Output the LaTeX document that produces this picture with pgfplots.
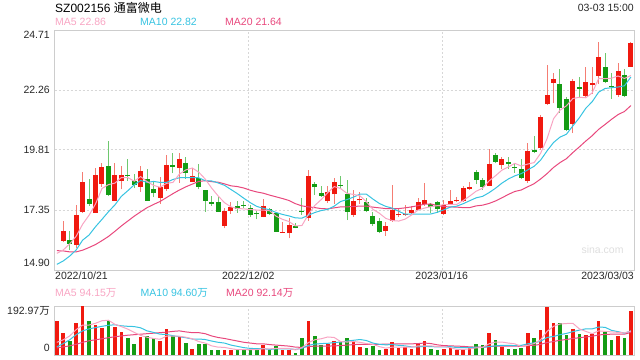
\documentclass[border=0pt]{standalone}
\usepackage{pgfplots}
\pgfplotsset{compat=1.18}
\usepackage{pgfplotstable}
\usepackage{fontspec}
\setmainfont{Liberation Sans}
\newfontfamily\cjk{Noto Sans CJK SC}
\definecolor{cUp}{RGB}{240,25,15}
\definecolor{cUpW}{RGB}{245,125,115}
\definecolor{cDn}{RGB}{20,155,20}
\definecolor{cDnW}{RGB}{110,200,110}
\definecolor{cMA5}{RGB}{248,165,195}
\definecolor{cMA10}{RGB}{55,195,225}
\definecolor{cMA20}{RGB}{232,72,125}
\definecolor{cGrid}{RGB}{215,215,215}
\definecolor{cBorder}{RGB}{205,205,205}
\definecolor{cTxt}{RGB}{40,40,40}
\definecolor{cWm}{RGB}{222,222,222}
\newcommand{\fs}[1]{\fontsize{#1}{#1}\selectfont}

% up candles: index open high low close
\pgfplotstableread{
i o h l c
0 16.10 16.90 16.06 16.49
2 15.92 17.56 15.79 17.15
3 17.28 18.92 17.24 18.50
5 17.24 19.08 17.24 18.78
6 18.42 19.29 18.31 19.12
8 17.73 19.29 17.73 18.78
9 18.55 19.15 18.20 18.77
12 18.31 19.15 18.10 18.95
15 17.86 18.71 17.60 18.31
16 18.21 19.60 18.14 19.19
18 19.06 19.67 18.47 19.44
20 18.51 19.08 18.51 18.74
25 16.70 17.42 16.60 17.31
26 17.32 17.67 17.19 17.49
31 17.08 17.80 17.05 17.52
34 16.42 16.88 16.42 16.47
35 16.40 17.04 16.19 16.74
38 17.01 18.99 16.92 18.75
41 17.72 18.33 17.65 18.07
42 17.99 18.65 17.60 18.51
45 17.15 18.17 17.08 17.72
46 17.75 18.07 17.60 17.80
50 16.49 16.85 16.30 16.70
51 16.92 18.37 16.88 17.35
52 17.13 17.42 17.05 17.19
53 17.13 17.56 17.11 17.18
54 17.22 17.53 17.19 17.35
55 17.35 17.83 17.35 17.67
56 17.58 18.44 17.53 17.76
59 17.19 17.76 17.15 17.56
60 17.60 18.17 17.56 17.72
61 17.71 17.90 17.67 17.76
62 17.73 18.33 17.69 18.25
63 18.21 18.51 18.17 18.31
66 18.35 19.85 18.35 19.23
68 19.19 19.53 19.01 19.44
72 18.54 20.08 18.47 19.76
74 19.87 21.24 19.80 21.14
75 21.685 23.28 21.645 22.05
76 22.56 22.94 21.71 22.69
79 20.87 22.69 20.49 22.64
81 22.03 23.18 21.94 22.585
82 22.48 23.18 22.09 22.53
83 22.84 24.21 22.50 23.59
86 22.05 23.375 21.985 23.03
88 23.21 24.23 23.21 24.19
}\uptab

% down candles: index open high low close
\pgfplotstableread{
i o h l c
1 16.125 16.49 15.72 15.975
4 17.80 18.62 17.53 17.60
7 19.15 20.17 17.92 17.97
10 18.78 19.42 18.55 18.73
11 18.55 18.81 18.24 18.37
13 18.62 19.01 17.73 17.73
14 18.21 18.55 17.87 18.03
17 19.19 19.70 18.85 19.12
19 19.26 19.53 18.63 18.88
21 18.67 19.23 18.20 18.31
22 18.17 18.17 17.28 17.73
23 17.69 17.94 17.53 17.60
24 17.69 17.94 17.28 17.28
27 17.52 17.72 17.24 17.38
28 17.56 17.72 17.42 17.51
29 17.42 17.56 17.08 17.15
30 17.23 17.31 16.97 17.18
32 17.39 17.42 17.15 17.19
33 17.22 17.24 16.47 16.47
36 16.70 16.83 16.60 16.63
37 17.32 17.83 17.15 17.27
39 18.42 18.48 17.97 18.28
40 18.06 18.33 17.90 17.94
43 18.38 18.74 18.20 18.33
44 18.01 18.58 16.94 17.28
47 17.67 17.83 17.26 17.31
48 17.11 17.28 16.71 16.78
49 16.90 17.04 16.40 16.47
57 17.60 17.65 17.24 17.49
58 17.67 17.73 17.24 17.39
64 18.89 18.99 18.40 18.58
65 18.58 18.65 18.17 18.31
67 19.60 19.67 19.26 19.33
69 19.30 19.53 19.03 19.23
70 19.12 19.26 18.88 19.06
71 19.01 19.42 18.61 18.67
73 19.80 20.39 19.67 19.74
77 22.50 23.10 21.33 21.54
78 21.89 21.985 20.58 20.62
80 22.37 22.80 21.92 22.30
84 23.18 23.76 22.53 22.60
85 22.42 22.94 21.89 22.37
87 22.87 23.10 21.96 22.03
}\dntab

% volume (10k shares), up days
\pgfplotstableread{
i v
-1 132
0 85
2 125
3 193
5 119
6 108
8 112
9 89
12 72
15 54
16 101
18 72
20 24
25 20
26 20
31 40
34 20
35 20
38 132
41 45
42 54
45 51
46 31
50 24
51 51
52 27
53 31
54 24
55 45
56 54
59 24
60 27
61 18
62 24
63 27
66 85
68 31
72 85
74 98
75 189
76 128
79 101
81 78
82 81
83 135
86 74
88 175
}\vuptab

% volume, down days
\pgfplotstableread{
i v
1 54
4 132
7 132
10 67
11 45
13 76
14 65
17 76
19 47
21 45
22 45
23 20
24 20
27 24
28 20
29 20
30 20
32 18
33 34
36 7
37 65
39 76
40 38
43 51
44 65
47 28
48 34
49 20
57 24
58 18
64 45
65 38
67 58
69 24
70 24
71 27
73 65
77 128
78 78
80 81
84 92
85 60
87 65
}\vdntab

\pgfplotsset{kbase/.style={
  scale only axis, width=579.5bp, xmin=-1.36, xmax=88.48,
  axis line style={draw=cBorder, line width=0.8bp},
  major tick length=0pt, tick style={draw=none},
  xtick={28.7,58.7}, xticklabels={},
  xmajorgrids,
  major grid style={draw=cGrid, line width=0.8bp, dash pattern=on 2bp off 2bp},
}}

\begin{document}
\begin{tikzpicture}
\useasboundingbox (0,0) rectangle (640bp,360bp);

% ---------------- price panel ----------------
\begin{axis}[kbase, at={(54.5bp,90bp)}, anchor=south west, height=240bp,
  ymin=14.90, ymax=24.71, ytick={17.35,19.81,22.26}, yticklabels={}, ymajorgrids]
% wicks
\addplot[draw=none, mark=none, forget plot, error bars/.cd, y dir=plus, y explicit, error mark=none,
  error bar style={draw=cUpW, line width=1bp}]
  table[x=i, y=l, y error plus expr=\thisrow{h}-\thisrow{l}] \uptab;
\addplot[draw=none, mark=none, forget plot, error bars/.cd, y dir=plus, y explicit, error mark=none,
  error bar style={draw=cDnW, line width=1bp}]
  table[x=i, y=l, y error plus expr=\thisrow{h}-\thisrow{l}] \dntab;
% bodies
\addplot[draw=none, mark=none, forget plot, error bars/.cd, y dir=plus, y explicit, error mark=none,
  error bar style={draw=cUp, line width=5bp, line cap=butt}]
  table[x=i, y=o, y error plus expr=\thisrow{c}-\thisrow{o}] \uptab;
\addplot[draw=none, mark=none, forget plot, error bars/.cd, y dir=plus, y explicit, error mark=none,
  error bar style={draw=cDn, line width=5bp, line cap=butt}]
  table[x=i, y=c, y error plus expr=\thisrow{o}-\thisrow{c}] \dntab;
% MA20
\addplot[cMA20, line width=1bp, mark=none] coordinates {
(-1,15.69)(0,15.68)(1,15.64)(2,15.64)(3,15.71)(4,15.82)(5,15.94)(6,16.10)(7,16.27)(8,16.48)(9,16.70)
(10,16.90)(11,17.10)(12,17.28)(13,17.45)(14,17.58)(15,17.70)(16,17.86)(17,18.02)(18,18.17)(19,18.30)
(20,18.41)(21,18.52)(22,18.55)(23,18.51)(24,18.49)(25,18.42)(26,18.34)(27,18.31)(28,18.25)(29,18.16)
(30,18.09)(31,18.04)(32,17.96)(33,17.89)(34,17.82)(35,17.74)(36,17.61)(37,17.52)(38,17.48)(39,17.45)
(40,17.41)(41,17.40)(42,17.44)(43,17.48)(44,17.48)(45,17.50)(46,17.51)(47,17.51)(48,17.47)(49,17.44)
(50,17.41)(51,17.41)(52,17.41)(53,17.44)(54,17.48)(55,17.53)(56,17.59)(57,17.60)(58,17.53)(59,17.49)
(60,17.48)(61,17.47)(62,17.45)(63,17.45)(64,17.52)(65,17.55)(66,17.62)(67,17.72)(68,17.85)(69,17.99)
(70,18.11)(71,18.17)(72,18.30)(73,18.43)(74,18.62)(75,18.84)(76,19.09)(77,19.29)(78,19.45)(79,19.70)
(80,19.93)(81,20.17)(82,20.39)(83,20.65)(84,20.85)(85,21.06)(86,21.25)(87,21.38)(88,21.62)};
% MA10
\addplot[cMA10, line width=1bp, mark=none] coordinates {
(-1,15.13)(0,15.27)(1,15.47)(2,15.72)(3,16.12)(4,16.33)(5,16.67)(6,16.97)(7,17.28)(8,17.56)(9,17.91)
(10,18.14)(11,18.38)(12,18.56)(13,18.48)(14,18.52)(15,18.48)(16,18.48)(17,18.60)(18,18.67)(19,18.68)
(20,18.68)(21,18.67)(22,18.55)(23,18.54)(24,18.46)(25,18.36)(26,18.19)(27,18.02)(28,17.83)(29,17.65)
(30,17.50)(31,17.42)(32,17.36)(33,17.25)(34,17.17)(35,17.11)(36,17.03)(37,17.02)(38,17.14)(39,17.25)
(40,17.33)(41,17.38)(42,17.51)(43,17.70)(44,17.78)(45,17.88)(46,18.00)(47,18.00)(48,17.80)(49,17.62)
(50,17.50)(51,17.43)(52,17.30)(53,17.18)(54,17.19)(55,17.18)(56,17.18)(57,17.19)(58,17.26)(59,17.36)
(60,17.47)(61,17.51)(62,17.61)(63,17.73)(64,17.85)(65,17.91)(66,18.06)(67,18.24)(68,18.45)(69,18.62)
(70,18.75)(71,18.84)(72,18.99)(73,19.14)(74,19.39)(75,19.77)(76,20.11)(77,20.33)(78,20.45)(79,20.79)
(80,21.12)(81,21.51)(82,21.78)(83,22.17)(84,22.32)(85,22.35)(86,22.38)(87,22.43)(88,22.79)};
% MA5
\addplot[cMA5, line width=1bp, mark=none] coordinates {
(-1,15.58)(0,15.72)(1,15.97)(2,16.28)(3,16.77)(4,17.14)(5,17.60)(6,18.23)(7,18.39)(8,18.45)(9,18.68)
(10,18.68)(11,18.53)(12,18.72)(13,18.51)(14,18.36)(15,18.28)(16,18.44)(17,18.48)(18,18.82)(19,18.99)
(20,19.07)(21,18.90)(22,18.62)(23,18.25)(24,17.93)(25,17.65)(26,17.48)(27,17.41)(28,17.40)(29,17.37)
(30,17.35)(31,17.35)(32,17.32)(33,17.10)(34,16.97)(35,16.88)(36,16.70)(37,16.72)(38,17.17)(39,17.54)
(40,17.78)(41,18.06)(42,18.31)(43,18.23)(44,18.03)(45,17.99)(46,17.93)(47,17.69)(48,17.38)(49,17.22)
(50,17.01)(51,16.92)(52,16.90)(53,16.98)(54,17.15)(55,17.35)(56,17.43)(57,17.49)(58,17.53)(59,17.57)
(60,17.58)(61,17.58)(62,17.74)(63,17.92)(64,18.12)(65,18.24)(66,18.54)(67,18.75)(68,18.98)(69,19.11)
(70,19.26)(71,19.15)(72,19.23)(73,19.29)(74,19.67)(75,20.27)(76,21.08)(77,21.43)(78,21.61)(79,21.91)
(80,21.96)(81,21.94)(82,22.14)(83,22.73)(84,22.72)(85,22.74)(86,22.83)(87,22.73)(88,22.85)};
\end{axis}

% ---------------- volume panel ----------------
\begin{axis}[kbase, at={(54.5bp,5bp)}, anchor=south west, height=49bp,
  ymin=0, ymax=193, ytick=\empty]
\addplot[ycomb, draw=cUp, line width=3.6bp, mark=none] table[x=i, y=v] \vuptab;
\addplot[ycomb, draw=cDn, line width=3.6bp, mark=none] table[x=i, y=v] \vdntab;
\addplot[cMA20, line width=1bp, mark=none] coordinates {
(-1,28)(0,32)(1,36)(2,42)(3,50)(4,56)(5,60)(6,64)(7,68)(8,72)(9,75)(10,78)(11,80)(12,82)(13,84)(14,86)
(15,88)(16,90)(17,93)(18,95)(19,91)(20,88)(21,88)(22,84)(23,75)(24,69)(25,65)(26,60)(27,55)(28,50)(29,47)
(30,44)(31,44)(32,41)(33,39)(34,37)(35,35)(36,31)(37,30)(38,33)(39,35)(40,35)(41,35)(42,36)(43,37)(44,39)
(45,41)(46,42)(47,42)(48,42)(49,42)(50,43)(51,43)(52,44)(53,44)(54,44)(55,45)(56,47)(57,45)(58,40)(59,37)
(60,36)(61,35)(62,34)(63,32)(64,31)(65,31)(66,33)(67,35)(68,35)(69,35)(70,35)(71,34)(72,37)(73,38)(74,42)
(75,49)(76,53)(77,58)(78,61)(79,65)(80,68)(81,71)(82,74)(83,79)(84,81)(85,82)(86,82)(87,82)(88,89)};
\addplot[cMA10, line width=1bp, mark=none] coordinates {
(-1,32)(0,45)(1,60)(2,80)(3,95)(4,103)(5,108)(6,113)(7,117)(8,119)(9,115)(10,113)(11,112)(12,107)(13,95)
(14,89)(15,82)(16,81)(17,76)(18,72)(19,68)(20,63)(21,63)(22,61)(23,55)(24,50)(25,47)(26,39)(27,34)(28,29)
(29,26)(30,25)(31,25)(32,22)(33,24)(34,24)(35,24)(36,22)(37,26)(38,38)(39,43)(40,45)(41,46)(42,49)(43,51)
(44,55)(45,58)(46,61)(47,57)(48,47)(49,42)(50,40)(51,41)(52,38)(53,36)(54,32)(55,32)(56,34)(57,33)(58,32)
(59,32)(60,33)(61,29)(62,29)(63,29)(64,31)(65,30)(66,33)(67,36)(68,38)(69,38)(70,37)(71,38)(72,44)(73,48)
(74,54)(75,69)(76,73)(77,80)(78,85)(79,92)(80,98)(81,103)(82,103)(83,110)(84,109)(85,97)(86,92)(87,86)(88,95)};
\addplot[cMA5, line width=1bp, mark=none] coordinates {
(-1,50)(0,60)(1,75)(2,100)(3,118)(4,118)(5,125)(6,135)(7,137)(8,121)(9,112)(10,102)(11,89)(12,77)(13,70)
(14,65)(15,62)(16,74)(17,74)(18,74)(19,70)(20,64)(21,53)(22,47)(23,36)(24,31)(25,30)(26,25)(27,21)(28,21)
(29,21)(30,21)(31,25)(32,24)(33,26)(34,26)(35,26)(36,20)(37,29)(38,49)(39,60)(40,64)(41,71)(42,69)(43,53)
(44,51)(45,53)(46,50)(47,45)(48,42)(49,33)(50,27)(51,31)(52,31)(53,31)(54,31)(55,36)(56,36)(57,36)(58,33)
(59,33)(60,29)(61,22)(62,22)(63,24)(64,28)(65,30)(66,44)(67,51)(68,51)(69,47)(70,44)(71,33)(72,38)(73,45)
(74,60)(75,93)(76,113)(77,122)(78,124)(79,125)(80,103)(81,93)(82,84)(83,95)(84,93)(85,91)(86,89)(87,87)(88,94)};
\end{axis}

% ---------------- texts ----------------
\node[anchor=west, inner sep=0pt, text=black] at (55bp,352bp) {\fs{12bp}SZ002156 {\cjk 通富微电}};
\node[anchor=east, inner sep=0pt, text=cTxt] at (634bp,352bp) {\fs{10.5bp}03-03 15:00};
\node[anchor=west, inner sep=0pt, text=cMA5] at (55bp,338bp) {\fs{10.5bp}MA5 22.86};
\node[anchor=west, inner sep=0pt, text=cMA10] at (140bp,338bp) {\fs{10.5bp}MA10 22.82};
\node[anchor=west, inner sep=0pt, text=cMA20] at (225bp,338bp) {\fs{10.5bp}MA20 21.64};

\node[anchor=east, inner sep=0pt, text=cTxt] at (50bp,325bp) {\fs{10.5bp}24.71};
\node[anchor=east, inner sep=0pt, text=cTxt] at (50bp,270bp) {\fs{10.5bp}22.26};
\node[anchor=east, inner sep=0pt, text=cTxt] at (50bp,210bp) {\fs{10.5bp}19.81};
\node[anchor=east, inner sep=0pt, text=cTxt] at (50bp,150bp) {\fs{10.5bp}17.35};
\node[anchor=east, inner sep=0pt, text=cTxt] at (50bp,97bp) {\fs{10.5bp}14.90};

\node[anchor=west, inner sep=0pt, text=cTxt] at (55bp,84bp) {\fs{10.5bp}2022/10/21};
\node[inner sep=0pt, text=cTxt] at (248.3bp,84bp) {\fs{10.5bp}2022/12/02};
\node[inner sep=0pt, text=cTxt] at (441.7bp,84bp) {\fs{10.5bp}2023/01/16};
\node[anchor=east, inner sep=0pt, text=cTxt] at (634bp,84bp) {\fs{10.5bp}2023/03/03};

\node[inner sep=0pt, text=cWm] at (602.5bp,110.5bp) {\fs{10.5bp}sina.com};

\node[anchor=west, inner sep=0pt, text=cMA5] at (55bp,67bp) {\fs{10.5bp}MA5 94.15{\cjk 万}};
\node[anchor=west, inner sep=0pt, text=cMA10] at (140.5bp,67bp) {\fs{10.5bp}MA10 94.60{\cjk 万}};
\node[anchor=west, inner sep=0pt, text=cMA20] at (226bp,67bp) {\fs{10.5bp}MA20 92.14{\cjk 万}};
\node[anchor=east, inner sep=0pt, text=cTxt] at (50bp,49bp) {\fs{10.5bp}192.97{\cjk 万}};
\node[anchor=east, inner sep=0pt, text=cTxt] at (50bp,12bp) {\fs{10.5bp}0};
\end{tikzpicture}
\end{document}
